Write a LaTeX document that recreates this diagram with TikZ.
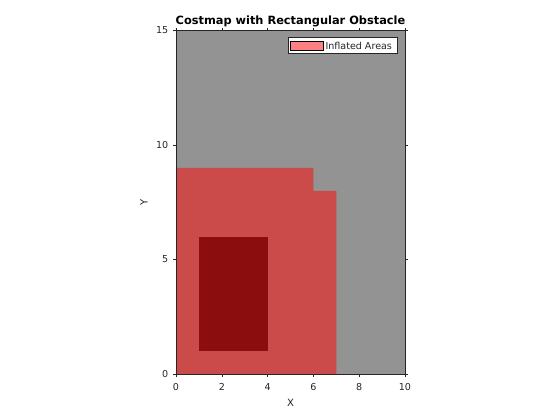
\documentclass[tikz,border=0pt]{standalone}
\usepackage{fontspec}
\setmainfont{DejaVu Sans}
\usepackage{xcolor}
\definecolor{freegray}{RGB}{147,147,147}
\definecolor{inflred}{RGB}{203,75,75}
\definecolor{obstred}{RGB}{139,13,13}
\definecolor{legred}{RGB}{255,128,128}
\definecolor{axisgray}{RGB}{38,38,38}

\begin{document}
\begin{tikzpicture}[
        x=0.8cm, y=0.8cm,
        axis_line/.style={draw=axisgray, line width=0.6pt},
        tick_label/.style={font=\fontsize{9.5}{11}\selectfont, text=axisgray, inner sep=0pt},
        axis_label/.style={font=\fontsize{10}{12}\selectfont, text=axisgray, inner sep=0pt},
        title_label/.style={font=\fontsize{11.3}{13}\selectfont\bfseries, text=black, inner sep=0pt},
        legend_box/.style={draw=axisgray, fill=white, line width=0.5pt}
    ]
        % Rozměry obrázku
        \useasboundingbox (-7.686,-2.009) rectangle (16.769,16.332);
        % Volný prostor
        \fill[freegray] (0,0) rectangle (10,15);
        % Nafouknuté oblasti
        \fill[inflred] (0,0) -- (7,0) -- (7,8) -- (6,8) -- (6,9) -- (0,9) -- cycle;
        % Překážka
        \fill[obstred] (1,1) rectangle (4,6);
        % Osy a značky
        \draw[axis_line] (0,0) rectangle (10,15);
        \foreach \xv in {0,2,...,10} {
            \draw[axis_line] (\xv,0) -- ++(0,-0.11);
            \draw[axis_line] (\xv,15) -- ++(0,0.11);
            \node[tick_label] (xt\xv) at (\xv,-0.57) {\xv};
        }
        \foreach \yv in {0,5,10,15} {
            \draw[axis_line] (0,\yv) -- ++(-0.11,0);
            \draw[axis_line] (10,\yv) -- ++(0.11,0);
            \node[tick_label, anchor=east] (yt\yv) at (-0.33,\yv) {\yv};
        }
        \node[axis_label] (xlab) at (5,-1.27) {X};
        \node[axis_label, rotate=90] (ylab) at (-1.40,7.5) {Y};
        \node[title_label] (title) at (5,15.38) {Costmap with Rectangular Obstacle};
        % Legenda
        \draw[legend_box] (4.89,14.0) rectangle (9.65,14.69);
        \draw[draw=black, fill=legred, line width=0.5pt] (4.98,14.12) rectangle (6.45,14.55);
        \node[tick_label, anchor=west, font=\fontsize{9.5}{11}\selectfont] (leg) at (6.52,14.33) {Inflated Areas};
    \end{tikzpicture}
\end{document}
